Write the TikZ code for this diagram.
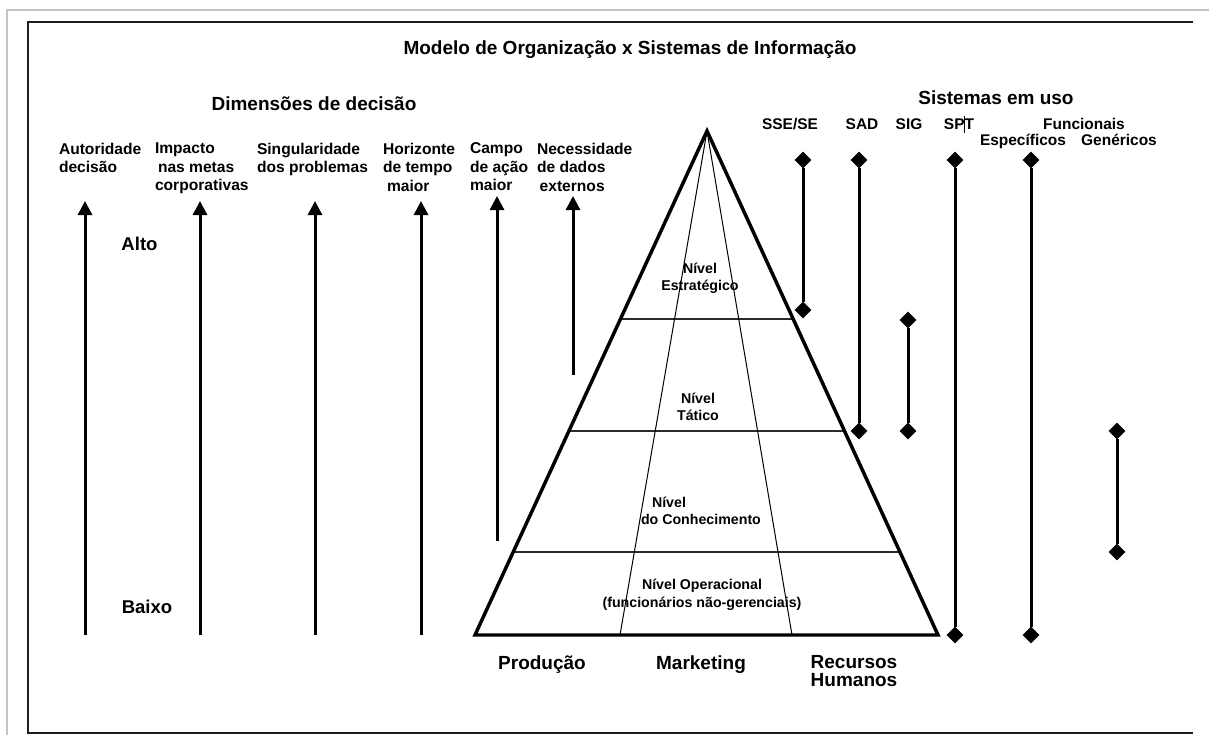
\documentclass[tikz,border=0pt]{standalone}
\usepackage{fontspec}
\setmainfont{Liberation Sans}
\usetikzlibrary{arrows.meta,shapes.geometric,calc}
\definecolor{pagegray}{HTML}{C4C4C4}
\definecolor{frameink}{HTML}{1E1E1E}
\definecolor{tierink}{HTML}{2A2A2A}
\begin{document}
\begin{tikzpicture}[x=0.75pt,y=-0.75pt,
  every node/.style={inner sep=0pt, outer sep=0pt},
  headfont/.style={font=\fontsize{14.25}{17}\selectfont\bfseries},
  levelfont/.style={font=\fontsize{13.9}{16}\selectfont\bfseries},
  dimfont/.style={font=\fontsize{11.7}{13.9}\selectfont\bfseries, align=left, anchor=north west},
  sysfont/.style={font=\fontsize{11.6}{12.75}\selectfont\bfseries, anchor=base},
  tierfont/.style={font=\fontsize{10.65}{12.75}\selectfont\bfseries, align=center, anchor=north},
  uparrow/.style={line width=2.25pt, -{Triangle[width=10.5pt,length=10.5pt]}},
  sysmark/.style={diamond, fill=black, minimum size=12.5pt},
  sysline/.style={line width=2.25pt},
  tierline/.style={tierink, line width=1.1pt},
  divider/.style={line width=0.75pt},
]
\useasboundingbox (0,0) rectangle (1209,735);

% page edge and frame
\draw[pagegray, line width=1.5pt] (1209,10) -- (7,10) -- (7,735);
\draw[frameink, line width=1.5pt] (1193,22) -- (28,22) -- (28,733) -- (1193,733);

% titles
\node[headfont, anchor=base] (title) at (630,55) {Modelo de Organização x Sistemas de Informação};
\node[headfont, anchor=base] (dimhead) at (314,110) {Dimensões de decisão};
\node[headfont, anchor=base] (syshead) at (996,104) {Sistemas em uso};

% decision dimensions
\node[dimfont] (dAut) at (59,143) {Autoridade\\decisão};
\node[dimfont] (dImp) at (155,143) {Impacto\\\hspace*{2.25pt}nas metas\\corporativas};
\node[dimfont] (dSing) at (257,143) {Singularidade\\dos problemas};
\node[dimfont] (dHor) at (383,143) {Horizonte\\de tempo\\\hspace*{3pt}maior};
\node[dimfont] (dCam) at (470,143) {Campo\\de ação\\maior};
\node[dimfont] (dNec) at (537,143) {Necessidade\\de dados\\\hspace*{2pt}externos};

\node[levelfont, anchor=base] (alto) at (139.5,250.7) {Alto};
\node[levelfont, anchor=base] (baixo) at (147,613.7) {Baixo};

\foreach \n/\x/\ya/\yb in {Aut/85/635/201, Imp/200/635/201, Sing/315/635/201,
                           Hor/421/635/201, Cam/497/541/196, Nec/573/375/196} {
  \coordinate (a\n B) at (\x,\ya);
  \coordinate (a\n T) at (\x,\yb);
  \draw[uparrow] (a\n B) -- (a\n T);
}

% pyramid
\coordinate (apex) at (707,131);
\coordinate (bl) at (475,635);
\coordinate (br) at (938,635);
\coordinate (cutL) at (620,635);
\coordinate (cutR) at (792,635);
\foreach \t in {0.373,0.595,0.835}
  \draw[tierline] ($(apex)!\t!(bl)$) -- ($(apex)!\t!(br)$);
\draw[divider] (apex) -- (cutL);
\draw[divider] (apex) -- (cutR);
\draw[line width=2.6pt] (apex) -- (bl) -- (br) -- cycle;

\node[tierfont] (tEst) at (700,262.6) {Nível\\Estratégico};
\node[tierfont] (tTat) at (698,392.6) {Nível\\Tático};
\node[tierfont, align=left, anchor=north west] (tCon) at (641,496.6) {\hspace*{8.25pt}Nível\\do Conhecimento};
\node[tierfont, font=\fontsize{10.65}{13.5}\selectfont\bfseries] (tOpe) at (702,578.6) {Nível Operacional\\(funcionários não-gerenciais)};

\node[headfont, anchor=base] (bProd) at (542,669) {Produção};
\node[headfont, anchor=base] (bMkt) at (701,669) {Marketing};
\node[headfont, font=\fontsize{14.25}{13.7}\selectfont\bfseries, align=center, anchor=north] (bRH) at (854,655) {Recursos\\Humanos};

% systems in use
\node[sysfont] (lSSE) at (790,129.6) {SSE/SE};
\node[sysfont] (lSAD) at (862,129.6) {SAD};
\node[sysfont] (lSIG) at (909,129.6) {SIG};
\node[sysfont] (lSPT) at (959,129.6) {SPT};
\draw[line width=0.75pt] (964,116) -- (964,133);
\node[sysfont] (lFun) at (1084,129) {Funcionais};
\node[sysfont] (lEsp) at (1023,145.6) {Específicos};
\node[sysfont] (lGen) at (1119,145.6) {Genéricos};

\foreach \n/\x/\ya/\yb in {SSE/803/160/310, SAD/859/160/431, SIG/908/320/431,
                           SPT/955/160/635, Esp/1031/160/635, Gen/1117/431/552} {
  \node[sysmark] (m\n T) at (\x,\ya) {};
  \node[sysmark] (m\n B) at (\x,\yb) {};
  \draw[sysline] (m\n T) -- (m\n B);
}
\end{tikzpicture}
\end{document}
